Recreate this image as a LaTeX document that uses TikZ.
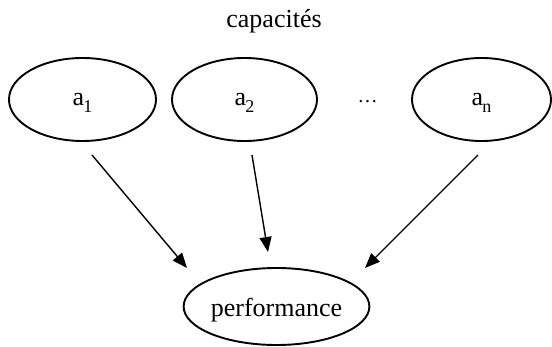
\documentclass[tikz,border=0pt]{standalone}
\usepackage{fontspec}
\setmainfont{Liberation Serif}
\usetikzlibrary{arrows.meta,shapes.geometric}
\newcommand{\sbs}[1]{\kern-1pt\raisebox{-7pt}{\fontsize{18}{20}\selectfont #1}}
\begin{document}
\begin{tikzpicture}[x=1pt,y=-1pt,
  oval/.style={draw=black,line width=1.9pt,ellipse,minimum width=#1,minimum height=83pt,inner sep=0pt,text height=12pt,text depth=0pt},
  arr/.style={line width=1.4pt,-{Triangle[length=15pt,width=12pt]}},
  lbl/.style={font=\fontsize{26}{28}\selectfont}]
\useasboundingbox (0,0) rectangle (552,347);
\node[lbl,anchor=base] (cap) at (274,28) {capacités};
\node[oval=147pt,lbl] (a1) at (82.5,99.5) {a\sbs{1}};
\node[oval=145pt,lbl] (a2) at (244.5,99.5) {a\sbs{2}};
\node[anchor=base,font=\fontsize{20}{22}\selectfont] (dots) at (367.5,103) {\ldots};
\node[oval=139pt,lbl] (an) at (481.5,99.5) {a\sbs{n}};
\node[draw=black,line width=1.9pt,ellipse,minimum width=179pt,minimum height=77pt,inner sep=0pt,text height=21pt,text depth=0pt,lbl] (perf) at (276.5,306.5) {performance};
\coordinate (s1) at (92,155);
\coordinate (s2) at (252,155);
\coordinate (s3) at (478,155);
\coordinate (e1) at (187,268);
\coordinate (e2) at (268,252);
\coordinate (e3) at (365,268);
\draw[arr] (s1) -- (e1);
\draw[arr] (s2) -- (e2);
\draw[arr] (s3) -- (e3);
\end{tikzpicture}
\end{document}
